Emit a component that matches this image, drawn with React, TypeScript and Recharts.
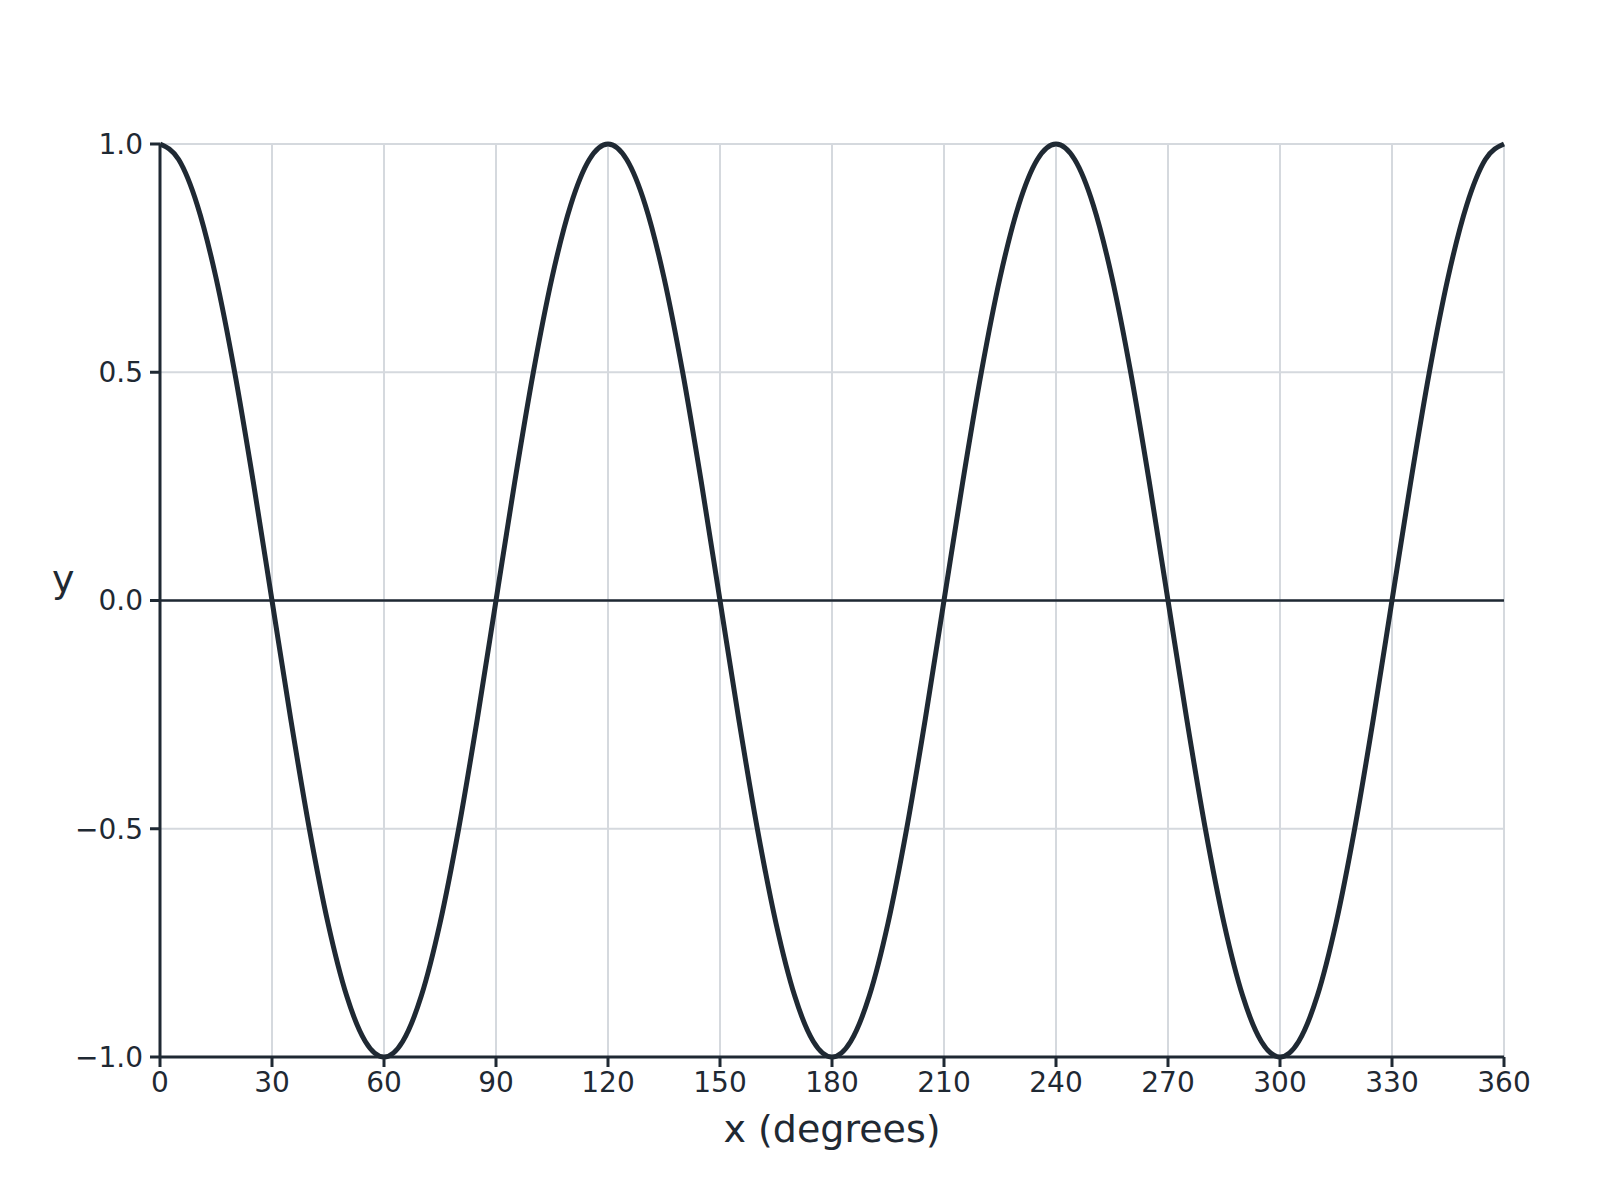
import React from 'react';
import { LineChart, Line, XAxis, YAxis, CartesianGrid, ReferenceLine } from 'recharts';

const xDegrees = [
  0, 5, 10, 15, 20, 25, 30, 35, 40, 45, 50, 55,
  60, 65, 70, 75, 80, 85, 90, 95, 100, 105, 110, 115,
  120, 125, 130, 135, 140, 145, 150, 155, 160, 165, 170, 175,
  180, 185, 190, 195, 200, 205, 210, 215, 220, 225, 230, 235,
  240, 245, 250, 255, 260, 265, 270, 275, 280, 285, 290, 295,
  300, 305, 310, 315, 320, 325, 330, 335, 340, 345, 350, 355,
  360,
];

const yValues = [
  1, 0.966, 0.866, 0.707, 0.5, 0.259, 0, -0.259, -0.5, -0.707, -0.866, -0.966,
  -1, -0.966, -0.866, -0.707, -0.5, -0.259, 0, 0.259, 0.5, 0.707, 0.866, 0.966,
  1, 0.966, 0.866, 0.707, 0.5, 0.259, 0, -0.259, -0.5, -0.707, -0.866, -0.966,
  -1, -0.966, -0.866, -0.707, -0.5, -0.259, 0, 0.259, 0.5, 0.707, 0.866, 0.966,
  1, 0.966, 0.866, 0.707, 0.5, 0.259, 0, -0.259, -0.5, -0.707, -0.866, -0.966,
  -1, -0.966, -0.866, -0.707, -0.5, -0.259, 0, 0.259, 0.5, 0.707, 0.866, 0.966,
  1,
];

const xTicks = [0, 30, 60, 90, 120, 150, 180, 210, 240, 270, 300, 330, 360];
const yTicks = [-1, -0.5, 0, 0.5, 1];

const data = xDegrees.map((x, i) => ({ x, y: yValues[i] }));

const DARK = '#1f2933';
const GRID = '#d5d9de';
const FONT = 'DejaVu Sans, sans-serif';

const fmtY = (v: number) => {
  const s = Math.abs(v).toFixed(1);
  return v < 0 ? '\u2212' + s : s;
};

export default function App() {
  return (
    <div style={{ position: 'absolute', left: 0, top: 0, width: 1600, height: 1200, background: '#fff' }}>
      <LineChart
        width={1600}
        height={1200}
        data={data}
        margin={{ top: 144, right: 96, bottom: 0, left: 0 }}
      >
        <CartesianGrid stroke={GRID} strokeWidth={2} />
        <XAxis
          dataKey="x"
          type="number"
          domain={[0, 360]}
          ticks={xTicks}
          interval={0}
          height={143}
          tickSize={10}
          tickMargin={5}
          axisLine={{ stroke: DARK, strokeWidth: 3 }}
          tickLine={{ stroke: DARK, strokeWidth: 3 }}
          tick={{ fontSize: 28, fill: DARK, fontFamily: FONT }}
          label={{
            value: 'x (degrees)',
            position: 'insideBottom',
            offset: 58,
            fontSize: 38,
            fill: DARK,
            fontFamily: FONT,
          }}
        />
        <YAxis
          type="number"
          domain={[-1, 1]}
          ticks={yTicks}
          interval={0}
          width={160}
          tickSize={10}
          tickMargin={7}
          tickFormatter={fmtY}
          axisLine={{ stroke: DARK, strokeWidth: 3 }}
          tickLine={{ stroke: DARK, strokeWidth: 3 }}
          tick={{ fontSize: 28, fill: DARK, fontFamily: FONT }}
          label={{
            value: 'y',
            position: 'insideLeft',
            offset: 52,
            dy: -22,
            fontSize: 38,
            fill: DARK,
            fontFamily: FONT,
          }}
        />
        <ReferenceLine y={0} stroke={DARK} strokeWidth={2.5} />
        <Line
          type="monotone"
          dataKey="y"
          stroke={DARK}
          strokeWidth={5}
          dot={false}
          activeDot={false}
          isAnimationActive={false}
        />
      </LineChart>
    </div>
  );
}
